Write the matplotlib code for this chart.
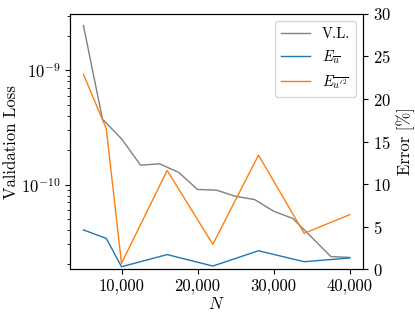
import matplotlib
matplotlib.use("Agg")
import matplotlib.pyplot as plt
from matplotlib.ticker import FuncFormatter

plt.rcParams['font.family'] = 'serif'
plt.rcParams['font.serif'] = ['cmr10']
plt.rcParams['mathtext.fontset'] = 'cm'
plt.rcParams['axes.formatter.use_mathtext'] = True
plt.rcParams['font.size'] = 12

# validation loss (left, log scale)
n_loss = [5000, 7500, 10000, 12500, 15000, 17500, 20000, 22500, 25000,
          27500, 30000, 32500, 35000, 37500, 40000]
val_loss = [2.47e-9, 3.74e-10, 2.52e-10, 1.48e-10, 1.52e-10, 1.28e-10, 9.06e-11,
            8.93e-11, 7.89e-11, 7.39e-11, 5.84e-11, 5.05e-11, 3.45e-11, 2.34e-11, 2.30e-11]

# errors in percent (right axis)
n_err = [5000, 8000, 10000, 16000, 22000, 28000, 34000, 40000]
err_u = [4.6, 3.6, 0.27, 1.7, 0.35, 2.15, 0.86, 1.3]
err_u2 = [22.9, 16.5, 0.67, 11.6, 2.9, 13.4, 4.2, 6.4]

fig = plt.figure(figsize=(4.15, 3.18), dpi=100)
ax = fig.add_axes([0.169, 0.154, 0.706, 0.802])
ax2 = ax.twinx()

l1, = ax.plot(n_loss, val_loss, color='gray', lw=1, label='V.L.')
ax.set_yscale('log')
ax.set_ylabel('Validation Loss', labelpad=1)
ax.set_xlabel('$N$', labelpad=1)
ax.xaxis.set_major_formatter(FuncFormatter(lambda x, p: f"{x:,.0f}"))
ax.set_xticks([10000, 20000, 30000, 40000])

l2, = ax2.plot(n_err, err_u, color='C0', lw=1, label=r'$E_{\overline{u}}$')
l3, = ax2.plot(n_err, err_u2, color='C1', lw=1, label=r"$E_{\overline{u'^2}}$")
ax2.set_ylim(0, 30)
ax2.set_ylabel('Error [%]')

ax2.legend(handles=[l1, l2, l3], loc='upper right', fontsize=10.5)

fig.savefig('out.png', dpi=100)
